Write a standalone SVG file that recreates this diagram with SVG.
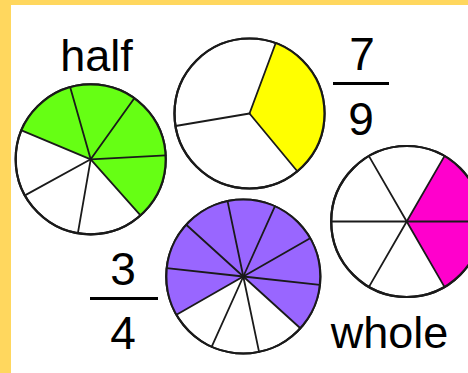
<svg xmlns="http://www.w3.org/2000/svg" width="468" height="373" viewBox="0 0 468 373">
<style>
.rim{fill:#fff;stroke:#1a1a1a;stroke-width:2.2}
.sec{stroke:none}
.div{stroke:#1a1a1a;stroke-width:1.8;fill:none;stroke-linecap:round}
.lbl{font-family:"Liberation Sans",Arial,sans-serif;font-size:45px;fill:#000;text-anchor:middle}
.bar{fill:#000}
</style>
<rect x="0" y="0" width="468" height="373" fill="#ffd75e"/>
<rect x="11" y="5" width="457" height="368" fill="#fff"/>

<g id="half-circle">
<circle class="rim" cx="90.7" cy="159.3" r="75"/>
<path class="sec" fill="#66ff14" d="M90.7,159.3 L21.51,130.36 A75,75 0 1 1 140.5,215.38 Z"/>
<g class="div">
<line x1="90.7" y1="159.3" x2="21.51" y2="130.36"/>
<line x1="90.7" y1="159.3" x2="70.19" y2="87.16"/>
<line x1="90.7" y1="159.3" x2="134.32" y2="98.29"/>
<line x1="90.7" y1="159.3" x2="165.6" y2="155.36"/>
<line x1="90.7" y1="159.3" x2="140.5" y2="215.38"/>
<line x1="90.7" y1="159.3" x2="77.88" y2="233.2"/>
<line x1="90.7" y1="159.3" x2="24.93" y2="195.35"/>
</g>
<circle cx="90.7" cy="159.3" r="75" fill="none" stroke="#1a1a1a" stroke-width="2.2"/>
</g>

<g id="yellow-circle">
<circle class="rim" cx="249.5" cy="113.5" r="75"/>
<path class="sec" fill="#ffff00" d="M249.5,113.5 L275.64,43.2 A75,75 0 0 1 297.31,171.29 Z"/>
<g class="div">
<line x1="249.5" y1="113.5" x2="275.64" y2="43.2"/>
<line x1="249.5" y1="113.5" x2="297.31" y2="171.29"/>
<line x1="249.5" y1="113.5" x2="175.55" y2="126.01"/>
</g>
<circle cx="249.5" cy="113.5" r="75" fill="none" stroke="#1a1a1a" stroke-width="2.2"/>
</g>

<g id="magenta-circle">
<circle class="rim" cx="406.7" cy="221.5" r="75.5"/>
<path class="sec" fill="#ff00cc" d="M406.7,221.5 L444.45,156.12 A75.5,75.5 0 0 1 444.45,286.88 Z"/>
<g class="div">
<line x1="406.7" y1="221.5" x2="482.2" y2="221.5"/>
<line x1="406.7" y1="221.5" x2="444.45" y2="286.88"/>
<line x1="406.7" y1="221.5" x2="368.95" y2="286.88"/>
<line x1="406.7" y1="221.5" x2="331.2" y2="221.5"/>
<line x1="406.7" y1="221.5" x2="368.95" y2="156.12"/>
<line x1="406.7" y1="221.5" x2="444.45" y2="156.12"/>
</g>
<circle cx="406.7" cy="221.5" r="75.5" fill="none" stroke="#1a1a1a" stroke-width="2.2"/>
</g>

<g id="purple-circle">
<circle class="rim" cx="243.3" cy="276.5" r="77"/>
<path class="sec" fill="#9966ff" d="M243.3,276.5 L176.48,314.77 A77,77 0 1 1 300.34,328.22 Z"/>
<g class="div">
<line x1="243.3" y1="276.5" x2="227.55" y2="201.12"/>
<line x1="243.3" y1="276.5" x2="274.86" y2="206.27"/>
<line x1="243.3" y1="276.5" x2="310.12" y2="238.23"/>
<line x1="243.3" y1="276.5" x2="319.85" y2="284.82"/>
<line x1="243.3" y1="276.5" x2="300.34" y2="328.22"/>
<line x1="243.3" y1="276.5" x2="259.05" y2="351.88"/>
<line x1="243.3" y1="276.5" x2="211.74" y2="346.73"/>
<line x1="243.3" y1="276.5" x2="176.48" y2="314.77"/>
<line x1="243.3" y1="276.5" x2="166.75" y2="268.18"/>
<line x1="243.3" y1="276.5" x2="186.26" y2="224.78"/>
</g>
<circle cx="243.3" cy="276.5" r="77" fill="none" stroke="#1a1a1a" stroke-width="2.2"/>
</g>

<g id="label-half">
<text class="lbl" x="96.5" y="71">half</text>
</g>
<g id="label-7-9">
<text class="lbl" x="362" y="70" style="font-size:46px">7</text>
<rect class="bar" x="333" y="82" width="56" height="3"/>
<text class="lbl" x="361" y="135" style="font-size:46px">9</text>
</g>
<g id="label-3-4">
<text class="lbl" x="123" y="285" style="font-size:46px">3</text>
<rect class="bar" x="90" y="297" width="68" height="3"/>
<text class="lbl" x="123" y="349" style="font-size:46px">4</text>
</g>
<g id="label-whole">
<text class="lbl" x="389.5" y="347.5">whole</text>
</g>
</svg>
